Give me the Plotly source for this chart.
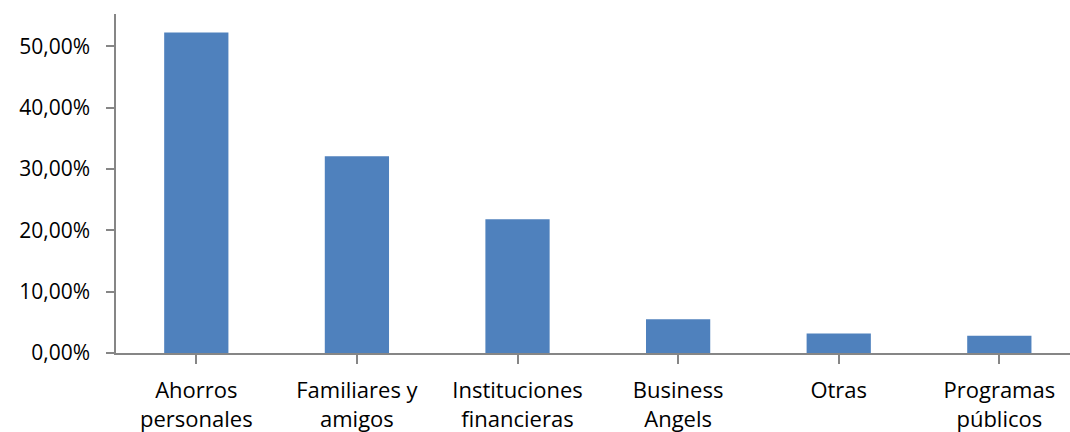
import plotly.graph_objects as go

# Funding sources and their share of responses
categories = ["Ahorros<br>personales", "Familiares y<br>amigos", "Instituciones<br>financieras",
              "Business<br>Angels", "Otras", "Programas<br>públicos"]
shares = [0.523, 0.321, 0.218, 0.055, 0.032, 0.028]
y_ticks = [0, 0.1, 0.2, 0.3, 0.4, 0.5]

axis_color = "#868686"
font_family = "Open Sans"

fig = go.Figure(
    go.Bar(
        x=list(range(len(categories))),
        y=shares,
        width=0.4,
        marker=dict(color="#4F81BD", line=dict(width=0)),
    )
)

fig.update_layout(
    width=1070,
    height=432,
    margin=dict(l=116, r=0, t=14, b=79),
    paper_bgcolor="white",
    plot_bgcolor="white",
    separators=",.",
    showlegend=False,
    font=dict(family=font_family, size=22, color="#000000"),
)

fig.update_xaxes(
    tickmode="array",
    tickvals=list(range(len(categories))),
    ticktext=categories,
    range=[-0.5, 5.44],
    tickson="boundaries",
    ticks="outside",
    ticklen=9,
    tickcolor=axis_color,
    tickwidth=1.5,
    showline=True,
    linecolor=axis_color,
    linewidth=1.5,
    showgrid=False,
    zeroline=False,
    ticklabelstandoff=8,
    tickfont=dict(family=font_family, size=22),
)

fig.update_yaxes(
    range=[0, 0.553],
    tickmode="array",
    tickvals=y_ticks,
    tickformat=".2%",
    ticks="outside",
    ticklen=8,
    tickcolor=axis_color,
    tickwidth=1.5,
    showline=True,
    linecolor=axis_color,
    linewidth=1.5,
    showgrid=False,
    zeroline=False,
    ticklabelstandoff=12,
    tickfont=dict(family=font_family, size=21),
)

fig.write_html("out.html")
